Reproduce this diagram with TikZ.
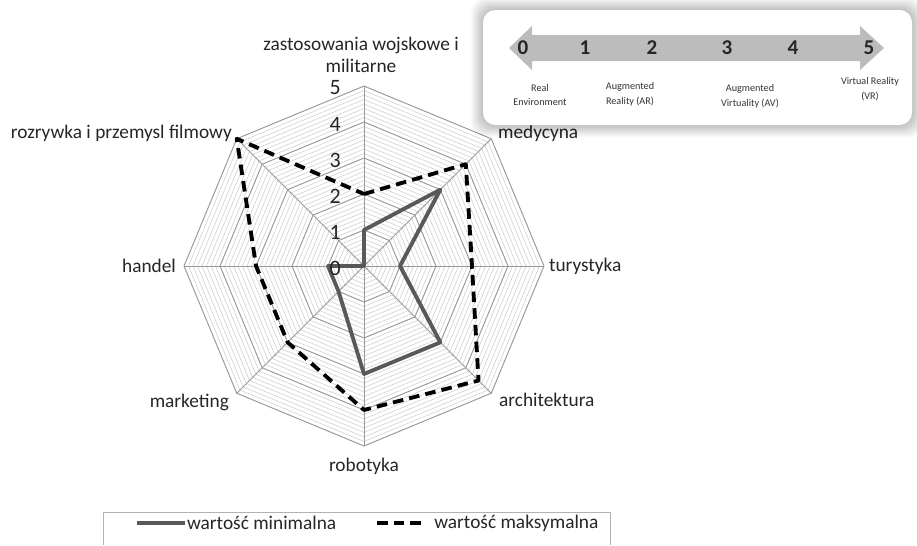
\documentclass[tikz,border=0pt]{standalone}
\usepackage{fontspec}
\setmainfont{Carlito}
\usetikzlibrary{positioning}

\tikzset{
  lbl/.style={font=\fontsize{11}{12.5}\selectfont, text=black!85, inner sep=1pt},
  num/.style={font=\fontsize{12.5}{14}\selectfont, text=black!85, inner sep=0pt},
  minor/.style={gray!40, line width=0.3pt},
  major/.style={gray!80, line width=0.5pt},
  minserie/.style={gray!70!black, line width=2.2pt, line join=round},
  maxserie/.style={black, line width=2.2pt, dash pattern=on 6pt off 3.5pt, line join=round},
  scalebox/.style={font=\fontsize{5.8}{8.4}\selectfont, text=black!80, align=center, inner sep=0pt},
  scalenum/.style={font=\bfseries\fontsize{12}{14}\selectfont, text=black!85, inner sep=0pt}
}

\begin{document}
\begin{tikzpicture}[x=0.02cm, y=-0.02cm]
  \useasboundingbox (0,0) rectangle (917,545);
  \fill[white] (0,0) rectangle (917,545);

  % siatka wykresu radarowego
  \begin{scope}[shift={(364,266)}, x=0.72cm, y=0.72cm]
    \foreach \i [evaluate=\i as \r using \i/8] in {1,...,40}
      \draw[minor] (0:\r) -- (45:\r) -- (90:\r) -- (135:\r) -- (180:\r) -- (225:\r) -- (270:\r) -- (315:\r) -- cycle;
    \foreach \r in {1,...,5}
      \draw[major] (0:\r) -- (45:\r) -- (90:\r) -- (135:\r) -- (180:\r) -- (225:\r) -- (270:\r) -- (315:\r) -- cycle;
    \foreach \a in {0,45,...,315}
      \draw[major] (0,0) -- (\a:5);
    % serie danych
    \draw[minserie] (90:1) -- (45:3) -- (0:1) -- (-45:3) -- (-90:3) -- (-135:1) -- (180:1) -- (135:0) -- cycle;
    \draw[maxserie] (90:2) -- (45:4) -- (0:3) -- (-45:4.5) -- (-90:4) -- (-135:3) -- (180:3) -- (135:5) -- cycle;
  \end{scope}

  % skala
  \foreach \v in {0,...,5}
    \node[num, anchor=east] (s\v) at (341, {268-36*\v}) {\v};

  % etykiety osi
  \node[lbl, align=center] (zast) at (361,55) {zastosowania wojskowe i\\militarne};
  \node[lbl, anchor=west] (med) at (496,133) {medycyna};
  \node[lbl, anchor=west] (tur) at (547,266) {turystyka};
  \node[lbl, anchor=west] (arch) at (497,400) {architektura};
  \node[lbl] (rob) at (364,466) {robotyka};
  \node[lbl, anchor=east] (mark) at (231,402) {marketing};
  \node[lbl, anchor=east] (hand) at (178,266) {handel};
  \node[lbl, anchor=east] (rozr) at (234,133) {rozrywka i przemysl filmowy};

  % wstawka: skala rzeczywistosc - VR
  \foreach \s in {1,...,12}
    \fill[black, opacity=0.018, rounded corners=8pt] (483-\s,10-\s) rectangle (912+\s,125+\s);
  \fill[white, rounded corners=7pt] (483,10) rectangle (912,125);
  \fill[gray!90!white!58] (509,48) -- (532,26) -- (532,35) -- (860,35) -- (860,26)
       -- (884,48) -- (860,70) -- (860,61) -- (532,61) -- (532,70) -- cycle;
  \node[scalenum] (n0) at (523,48) {0};
  \node[scalenum] (n1) at (585,48) {1};
  \node[scalenum] (n2) at (652,48) {2};
  \node[scalenum] (n3) at (727,48) {3};
  \node[scalenum] (n4) at (793,48) {4};
  \node[scalenum] (n5) at (869,48) {5};
  \node[scalebox] (real) at (540,95) {Real\\Environment};
  \node[scalebox] (ar) at (630,94) {Augmented\\Reality (AR)};
  \node[scalebox] (av) at (750,96) {Augmented\\Virtuality (AV)};
  \node[scalebox] (vr) at (870,89) {Virtual Reality\\(VR)};

  % legenda
  \draw[gray!60] (103,545) |- (610,512) -- (610,545);
  \coordinate (lminstart) at (137,523);
  \node[lbl, anchor=west] (lmin) at (185,523) {wartość minimalna};
  \draw[minserie] (lminstart) -- (lmin);
  \coordinate (lmaxstart) at (377,523);
  \node[lbl, anchor=west, inner sep=4pt] (lmax) at (427,523) {wartość maksymalna};
  \draw[maxserie] (lmaxstart) -- (lmax);
\end{tikzpicture}
\end{document}
